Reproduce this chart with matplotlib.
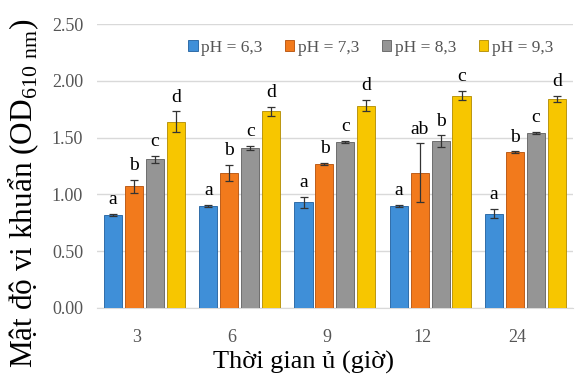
import numpy as np
import matplotlib
matplotlib.use("Agg")
import matplotlib.pyplot as plt

plt.rcParams['font.family'] = ['Liberation Serif', 'DejaVu Serif']
plt.rcParams['mathtext.fontset'] = 'custom'
plt.rcParams['mathtext.rm'] = 'Liberation Serif'

# data
times = ["3", "6", "9", "12", "24"]
series = ["pH = 6,3", "pH = 7,3", "pH = 8,3", "pH = 9,3"]
ph63 = [0.82, 0.90, 0.93, 0.90, 0.83]
ph73 = [1.07, 1.19, 1.27, 1.19, 1.37]
ph83 = [1.31, 1.41, 1.46, 1.47, 1.54]
ph93 = [1.64, 1.73, 1.78, 1.87, 1.84]
err63 = [0.01, 0.01, 0.05, 0.01, 0.04]
err73 = [0.06, 0.07, 0.01, 0.26, 0.01]
err83 = [0.03, 0.02, 0.01, 0.05, 0.01]
err93 = [0.09, 0.04, 0.05, 0.04, 0.03]
let63 = ["a", "a", "a", "a", "a"]
let73 = ["b", "b", "b", "ab", "b"]
let83 = ["c", "c", "c", "b", "c"]
let93 = ["d", "d", "d", "c", "d"]

values = [ph63, ph73, ph83, ph93]
errors = [err63, err73, err83, err93]
letters = [let63, let73, let83, let93]
colors = ["#3f8fd8", "#f27a1c", "#959595", "#f7c600"]
edges = ["#1f5f9e", "#b44f08", "#5f5f5f", "#b08a00"]

fig = plt.figure(figsize=(5.84, 3.82), dpi=100)
ax = fig.add_axes([0.166, 0.194, 0.815, 0.743])

x = np.arange(len(times))
w = 0.19
pitch = 0.22
for i in range(4):
    pos = x + (i - 1.5) * pitch
    ax.bar(pos, values[i], w, color=colors[i], edgecolor=edges[i], linewidth=0.6,
           label=series[i], zorder=3)
    ax.errorbar(pos, values[i], yerr=errors[i], fmt='none', ecolor='#333333',
                elinewidth=0.9, capsize=3, capthick=0.9, zorder=4)
    for j in range(len(times)):
        ax.text(pos[j], values[i][j] + errors[i][j] + 0.05, letters[i][j],
                ha='center', va='bottom', fontsize=14, color='black', zorder=5)

ax.set_ylim(0, 2.5)
ax.set_yticks([0, 0.5, 1.0, 1.5, 2.0, 2.5])
ax.set_yticklabels(["0.00", "0.50", "1.00", "1.50", "2.00", "2.50"])
ax.set_xlim(-0.5, len(times) - 0.5)
# category labels sit a little left of the group centres in the original
ax.set_xticks(x - 0.08)
ax.set_xticklabels(times)
ax.tick_params(axis='both', length=0, labelsize=13, labelcolor='#555555')
ax.tick_params(axis='x', pad=15)
ax.tick_params(axis='y', pad=10)
ax.grid(axis='y', color='#d9d9d9', linewidth=1, zorder=0)
for s in ['top', 'right', 'left']:
    ax.spines[s].set_visible(False)
ax.spines['bottom'].set_color('#d9d9d9')

ax.set_xlabel("Thời gian ủ (giờ)", fontsize=19, color='black')
ax.xaxis.set_label_coords(0.435, -0.15)
ax.set_ylabel("Mật độ vi khuẩn (OD$_{\\mathrm{610\\ nm}}$)", fontsize=22.5,
              color='black')
ax.yaxis.set_label_coords(-0.118, 0.405)

leg = ax.legend(loc='upper center', bbox_to_anchor=(0.575, 1.0), ncol=4,
                frameon=False, fontsize=12.5, handlelength=0.55, handleheight=0.55,
                handletextpad=0.2, columnspacing=1.3)
for t in leg.get_texts():
    t.set_color('#555555')

fig.savefig("out.png", dpi=100)
